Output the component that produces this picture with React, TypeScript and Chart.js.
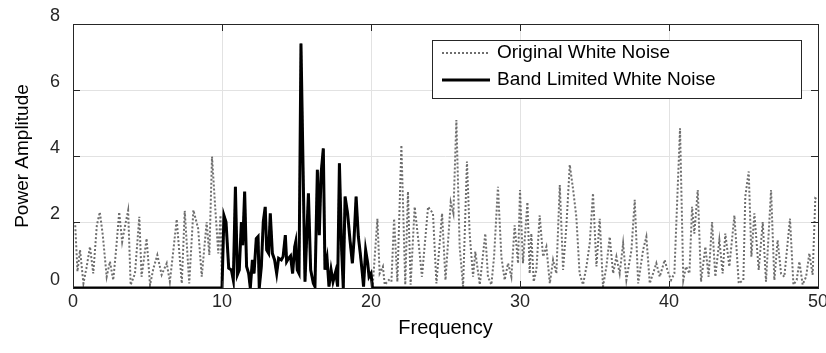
import React, { useEffect, useRef } from "react";
import { Chart, registerables } from "chart.js";

Chart.register(...registerables);

// Original white noise, 0–10
const lowFreq = [0.0, 0.15, 0.3, 0.47, 0.7, 0.9, 1.14, 1.36, 1.6, 1.8, 2.0, 2.26, 2.48, 2.7, 2.9, 3.1, 3.3, 3.5, 3.7, 3.87, 4.16, 4.45, 4.6, 4.94, 5.17, 5.4, 5.66, 5.95, 6.29, 6.5, 6.75, 6.96, 7.3, 7.5, 7.8, 8.08, 8.4, 8.64, 8.97, 9.15, 9.33, 9.55, 9.75, 9.9];
const lowAmp = [2.0, 1.9, 0.5, 1.15, 0.14, 0.6, 1.25, 0.44, 1.9, 2.3, 1.6, 0.34, 0.8, 0.24, 1.2, 2.3, 1.4, 1.9, 2.35, 0.09, 0.44, 2.16, 0.34, 1.5, 0.09, 0.6, 1.0, 0.4, 0.75, 0.19, 1.2, 2.08, 0.14, 2.34, 0.14, 2.36, 1.8, 0.34, 2.0, 1.0, 3.98, 2.4, 1.05, 2.2];

// Band 10–20 (shared by both series)
const bandFreq = [10.0, 10.13, 10.27, 10.45, 10.63, 10.76, 10.9, 11.03, 11.16, 11.3, 11.39, 11.52, 11.65, 11.79, 11.9, 12.04, 12.15, 12.3, 12.42, 12.5, 12.64, 12.77, 12.9, 13.0, 13.13, 13.24, 13.38, 13.53, 13.67, 13.8, 13.98, 14.1, 14.25, 14.34, 14.47, 14.6, 14.74, 14.88, 14.95, 15.05, 15.17, 15.3, 15.57, 15.8, 15.95, 16.13, 16.24, 16.4, 16.53, 16.65, 16.8, 16.91, 17.05, 17.18, 17.32, 17.45, 17.63, 17.76, 17.88, 18.03, 18.14, 18.26, 18.43, 18.59, 18.75, 18.86, 19.0, 19.15, 19.28, 19.42, 19.5, 19.64, 19.78, 19.87, 20.0, 20.1];
const bandAmp = [0, 2.2, 2.0, 0.6, 0.55, 0.24, 3.07, 0.4, 0.55, 2.0, 1.3, 2.92, 0.65, 0.44, 0, 0.85, 0.44, 1.5, 1.56, 0, 0.65, 2.0, 2.46, 1.15, 1.05, 2.26, 1.05, 0.85, 0.44, 0.9, 0.85, 0.95, 1.6, 0.8, 0.9, 0.97, 0.44, 1.25, 1.4, 0.55, 0.44, 7.41, 0.19, 2.87, 0.55, 0.14, 0.04, 3.58, 1.6, 3.47, 4.23, 0.55, 0.9, 0.04, 0.55, 0.19, 0.5, 0.04, 3.78, 1.15, 0, 2.77, 2.26, 1.45, 0.75, 1.45, 2.77, 1.56, 1.05, 0.44, 0.04, 1.15, 0.75, 0.34, 0.44, 0];

// Original white noise, 20–50
const highFreq = [20.14, 20.43, 20.58, 20.8, 20.92, 21.19, 21.37, 21.55, 21.77, 22.04, 22.3, 22.48, 22.66, 22.93, 23.2, 23.42, 23.83, 24.16, 24.39, 24.77, 25.0, 25.35, 25.53, 25.73, 25.95, 26.18, 26.44, 26.62, 26.85, 27.0, 27.3, 27.67, 27.85, 28.08, 28.26, 28.52, 28.75, 28.97, 29.2, 29.42, 29.64, 29.87, 30.0, 30.2, 30.5, 30.65, 30.76, 30.92, 31.1, 31.32, 31.55, 31.77, 32.0, 32.22, 32.44, 32.67, 32.89, 33.11, 33.34, 33.56, 33.78, 34.0, 34.23, 34.46, 34.68, 34.9, 35.13, 35.35, 35.57, 35.8, 36.02, 36.25, 36.47, 36.69, 36.92, 37.14, 37.48, 37.7, 37.93, 38.26, 38.48, 38.71, 38.93, 39.15, 39.38, 39.71, 39.92, 40.14, 40.36, 40.74, 40.96, 41.14, 41.37, 41.55, 41.7, 41.93, 42.15, 42.44, 42.66, 42.89, 43.11, 43.38, 43.6, 43.78, 44.05, 44.39, 44.68, 44.99, 45.12, 45.35, 45.53, 45.73, 46.02, 46.29, 46.51, 46.85, 47.07, 47.29, 47.52, 47.74, 48.12, 48.35, 48.57, 48.75, 48.97, 49.2, 49.42, 49.64, 49.82, 50.0];
const highAmp = [0.24, 2.1, 0.44, 0.65, 0.1, 0.24, 0.19, 2.1, 0.19, 4.33, 0.1, 2.92, 0.1, 2.46, 1.35, 0.34, 2.46, 2.26, 0.14, 2.26, 0.24, 2.6, 2.26, 5.09, 1.25, 0.04, 3.83, 1.65, 0.34, 1.1, 0.1, 1.65, 0.34, 0.1, 0.95, 3.07, 0.95, 0.24, 0.75, 0.34, 1.9, 0.75, 2.97, 0.75, 2.6, 0.44, 1.65, 0.19, 0.55, 2.2, 0.95, 1.25, 0.14, 0.85, 0.44, 3.12, 0.55, 1.86, 3.73, 3.0, 2.16, 0.44, 0.1, 0.65, 1.35, 2.87, 0.65, 2.1, 0.04, 0.65, 1.55, 0.44, 0.95, 0.44, 1.35, 0.24, 1.15, 2.67, 0.14, 1.15, 1.55, 0.14, 0.44, 0.75, 0.34, 0.85, 0.5, 0.24, 0.44, 4.84, 0.24, 0.65, 0.44, 2.46, 1.65, 2.97, 0.19, 1.25, 0.34, 2.0, 0.34, 1.45, 0.44, 1.65, 0.65, 2.2, 0.14, 0.24, 2.77, 3.53, 0.95, 2.26, 0.55, 2.0, 0.19, 2.97, 0.24, 1.45, 0.44, 0.34, 2.1, 0.1, 0.24, 0.8, 0.1, 0.34, 1.05, 0.4, 2.72, 2.67];

const xTicks = [0, 10, 20, 30, 40, 50];
const yTicks = [0, 2, 4, 6, 8];
const seriesLabels = ["Original White Noise", "Band Limited White Noise"];

const FONT = "'Liberation Sans', Arial, Helvetica, sans-serif";

const pts = (fs: number[], as: number[]) => fs.map((f, i) => ({ x: f, y: as[i] }));

const framePlugin = {
  id: "frame",
  afterDatasetsDraw(chart: any) {
    const { ctx, chartArea, scales } = chart;
    const { left, right, top, bottom } = chartArea;
    ctx.save();
    ctx.strokeStyle = "#262626";
    ctx.lineWidth = 1;
    ctx.beginPath();
    const tl = 7;
    scales.x.ticks.forEach((t: any) => {
      const px = Math.round(scales.x.getPixelForValue(t.value)) + 0.5;
      ctx.moveTo(px, bottom);
      ctx.lineTo(px, bottom - tl);
      ctx.moveTo(px, top);
      ctx.lineTo(px, top + tl);
    });
    scales.y.ticks.forEach((t: any) => {
      const py = Math.round(scales.y.getPixelForValue(t.value)) + 0.5;
      ctx.moveTo(left, py);
      ctx.lineTo(left + tl, py);
      ctx.moveTo(right, py);
      ctx.lineTo(right - tl, py);
    });
    ctx.stroke();
    ctx.strokeRect(Math.round(left) + 0.5, Math.round(top) + 0.5, Math.round(right - left), Math.round(bottom - top));
    ctx.restore();
  },
  afterDraw(chart: any) {
    const { ctx } = chart;
    const bx = 432, by = 40, bw = 369, bh = 58;
    ctx.save();
    ctx.fillStyle = "#ffffff";
    ctx.fillRect(bx, by, bw, bh);
    ctx.strokeStyle = "#262626";
    ctx.lineWidth = 1;
    ctx.strokeRect(bx + 0.5, by + 0.5, bw, bh);
    const ds = chart.data.datasets;
    const rows = [53, 80];
    ds.forEach((d: any, i: number) => {
      const y = rows[i];
      ctx.beginPath();
      ctx.strokeStyle = d.borderColor;
      ctx.lineWidth = d.borderWidth;
      ctx.setLineDash(d.borderDash || []);
      ctx.moveTo(442, y);
      ctx.lineTo(490, y);
      ctx.stroke();
      ctx.setLineDash([]);
      ctx.fillStyle = "#000000";
      ctx.font = `19px ${FONT}`;
      ctx.textBaseline = "middle";
      ctx.textAlign = "left";
      ctx.fillText(d.label, 497, y);
    });
    ctx.restore();
  },
};

export default function App() {
  const ref = useRef<HTMLCanvasElement | null>(null);
  useEffect(() => {
    if (!ref.current) return;
    const original = [...pts(lowFreq, lowAmp), ...pts(bandFreq, bandAmp), ...pts(highFreq, highAmp)];
    const band = [{ x: 0, y: 0 }, ...pts(bandFreq, bandAmp), { x: 50, y: 0 }];
    const chart = new Chart(ref.current, {
      type: "line",
      data: {
        datasets: [
          {
            label: seriesLabels[0],
            data: original,
            borderColor: "#6e6e6e",
            borderWidth: 2,
            borderDash: [2, 2],
            pointRadius: 0,
            fill: false,
            tension: 0,
            order: 1,
          },
          {
            label: seriesLabels[1],
            data: band,
            borderColor: "#000000",
            borderWidth: 3,
            pointRadius: 0,
            fill: false,
            tension: 0,
            order: 0,
          },
        ],
      },
      options: {
        animation: false,
        responsive: false,
        maintainAspectRatio: false,
        parsing: false as any,
        layout: { padding: { top: 24, right: 8, left: 0, bottom: 0 } },
        plugins: { legend: { display: false }, tooltip: { enabled: false } },
        scales: {
          x: {
            type: "linear",
            min: 0,
            max: 50,
            afterBuildTicks: (s: any) => {
              s.ticks = xTicks.map((v) => ({ value: v }));
            },
            afterFit: (s: any) => {
              s.height = 65;
              s.paddingLeft = 0;
              s.paddingRight = 0;
            },
            grid: { color: "#e2e2e2", drawTicks: false },
            border: { display: false },
            ticks: { color: "#262626", font: { family: FONT, size: 18 }, padding: 3, maxRotation: 0 },
            title: {
              display: true,
              text: "Frequency",
              color: "#000000",
              font: { family: FONT, size: 20 },
              padding: { top: 0, bottom: 13 },
            },
          },
          y: {
            type: "linear",
            min: 0,
            max: 8,
            afterBuildTicks: (s: any) => {
              s.ticks = yTicks.map((v) => ({ value: v }));
            },
            afterFit: (s: any) => {
              s.width = 73;
              s.paddingTop = 0;
              s.paddingBottom = 0;
            },
            grid: { color: "#e2e2e2", drawTicks: false },
            border: { display: false },
            ticks: { color: "#262626", font: { family: FONT, size: 18 }, padding: 13, labelOffset: -8 },
            title: {
              display: true,
              text: "Power Amplitude",
              color: "#000000",
              font: { family: FONT, size: 19 },
              padding: { top: 11, bottom: 0 },
            },
          },
        },
      },
      plugins: [framePlugin],
    });
    return () => chart.destroy();
  }, []);
  return (
    <div style={{ position: "absolute", left: 0, top: 0, width: 826, height: 353, background: "#ffffff" }}>
      <canvas ref={ref} width={826} height={353} style={{ display: "block", width: 826, height: 353 }} />
    </div>
  );
}
